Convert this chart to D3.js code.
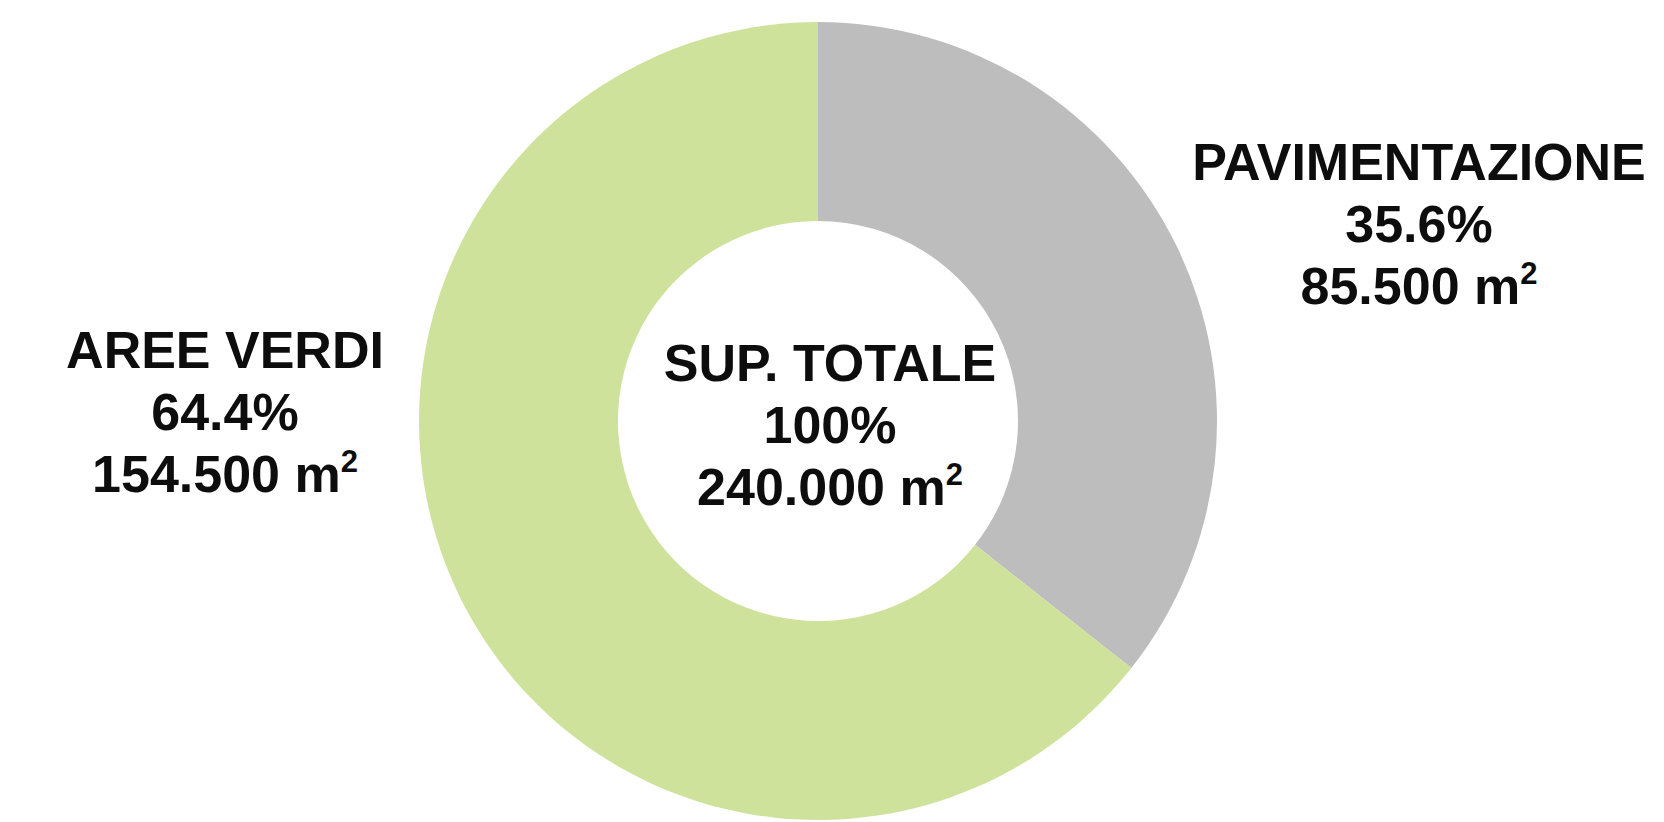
<!DOCTYPE html>
<html>
<head>
<meta charset="utf-8">
<script src="https://cdn.jsdelivr.net/npm/d3@7"></script>
<style>
  html, body { margin: 0; padding: 0; background: #ffffff; }
  svg { display: block; }
  text { font-family: "Liberation Sans", Arial, Helvetica, sans-serif; font-weight: bold; fill: #0d0d0d; }
</style>
</head>
<body>
<svg id="chart" width="1664" height="822"></svg>
<script>
// Surface breakdown (m²)
const categories = ["PAVIMENTAZIONE", "AREE VERDI"];
const areas = [85500, 154500];
const percents = ["35.6%", "64.4%"];
const areaLabels = ["85.500", "154.500"];
const colors = ["#bdbdbd", "#cfe29b"];

const totalTitle = "SUP. TOTALE";
const totalPercent = "100%";
const totalArea = "240.000";

const W = 1664, H = 822;
const cx = 818, cy = 421;
const outerR = 399, innerR = 200;
const fontSize = 52, lineH = 62;

// label anchors (offset of the middle line from the ring centre)
const labelOffsets = [[601, -179], [-593, 9]];

const svg = d3.select("#chart");
const g = svg.append("g").attr("transform", `translate(${cx},${cy})`);

const pie = d3.pie().sort(null).value(d => d)(areas);
const arc = d3.arc().innerRadius(innerR).outerRadius(outerR);

g.selectAll("path.slice")
  .data(pie)
  .join("path")
  .attr("class", "slice")
  .attr("d", arc)
  .attr("fill", (d, i) => colors[i]);

function block(x, y, lines) {
  const t = g.append("text")
    .attr("text-anchor", "middle")
    .attr("font-size", fontSize);
  lines.forEach((ln, k) => {
    const ts = t.append("tspan")
      .attr("x", x)
      .attr("y", y + (k - 1) * lineH);
    if (ln.sup) {
      ts.append("tspan").text(ln.text + " m");
      ts.append("tspan").attr("font-size", 31).attr("dy", -20).text("2");
    } else {
      ts.text(ln.text);
    }
  });
}

categories.forEach((c, i) => {
  const [dx, dy] = labelOffsets[i];
  block(dx, dy, [
    { text: c },
    { text: percents[i] },
    { text: areaLabels[i], sup: true }
  ]);
});

block(12, 22, [
  { text: totalTitle },
  { text: totalPercent },
  { text: totalArea, sup: true }
]);
</script>
</body>
</html>
